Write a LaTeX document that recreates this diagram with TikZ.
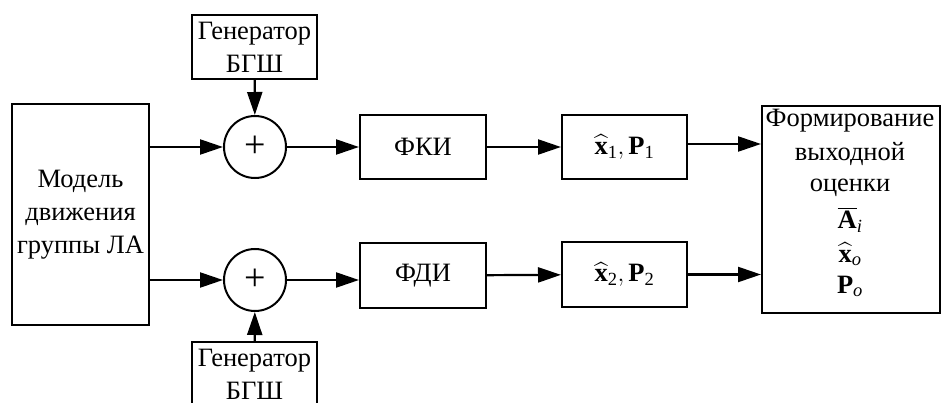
\documentclass[tikz,border=0pt]{standalone}
\usepackage{amsmath}
\usepackage{fontspec}
\setmainfont{Liberation Serif}
\usetikzlibrary{arrows.meta}
\begin{document}
\begin{tikzpicture}[x=1pt,y=-1pt,
  every node/.style={font=\fontsize{26.5}{33}\selectfont},
  box/.style={draw,line width=2pt,inner sep=0pt,align=center},
  sumc/.style={draw,line width=2pt,circle,minimum size=62pt,inner sep=0pt},
  lbl/.style={anchor=base,inner sep=0pt},
  arr/.style={line width=2.2pt,-{Triangle[length=23pt,width=15pt]}}]
\useasboundingbox (0,0) rectangle (941,403);
\node[box,minimum width=137pt,minimum height=221pt] (model) at (80.5,214.5) {Модель\\движения\\группы ЛА};
\node[box,minimum width=125pt,minimum height=64pt] (gen1) at (254.5,47) {Генератор\\БГШ};
\node[box,minimum width=125pt,minimum height=64pt] (gen2) at (254.5,374) {Генератор\\БГШ};
\node[sumc,font=\fontsize{38}{38}\selectfont] (s1) at (255,147) {+};
\node[sumc,font=\fontsize{38}{38}\selectfont] (s2) at (255,280) {+};
\node[box,minimum width=126pt,minimum height=64pt] (fki) at (423,147) {ФКИ};
\node[box,minimum width=126pt,minimum height=65pt] (fdi) at (423,275.5) {ФДИ};
\node[box,minimum width=125pt,minimum height=64pt] (x1) at (624.5,147) {$\widehat{\textbf{x}}_{\text{1}},\textbf{P}_{\text{1}}$};
\node[box,minimum width=125pt,minimum height=65pt] (x2) at (624.5,274.5) {$\widehat{\textbf{x}}_{\text{2}},\textbf{P}_{\text{2}}$};
\node[box,minimum width=178pt,minimum height=207pt,anchor=north west] (out) at (761,105) {};
\node[lbl] (t1) at (850,127) {Формирование};
\node[lbl] (t2) at (850,161) {выходной};
\node[lbl] (t3) at (850,192) {оценки};
\node[lbl] (t4) at (850,229) {$\overline{\textbf{A}}_{\textit{i}}$};
\node[lbl] (t5) at (850,262) {$\widehat{\textbf{x}}_{\textit{o}}$};
\node[lbl] (t6) at (850,293) {$\textbf{P}_{\textit{o}}$};
\draw[arr] (model.east |- s1) -- (s1);
\draw[arr] (model.east |- s2) -- (s2);
\draw[arr] (gen1) -- (s1);
\draw[arr] (gen2) -- (s2);
\draw[arr] (s1) -- (fki);
\draw[arr] (s2) -- (fdi.west |- s2);
\draw[arr] (fki) -- (x1);
\draw[arr] (fdi) -- (x2);
\draw[arr] (x1.east |- 0,144) -- (out.west |- 0,144);
\draw[arr] (x2) -- (out.west |- x2);
\end{tikzpicture}
\end{document}
